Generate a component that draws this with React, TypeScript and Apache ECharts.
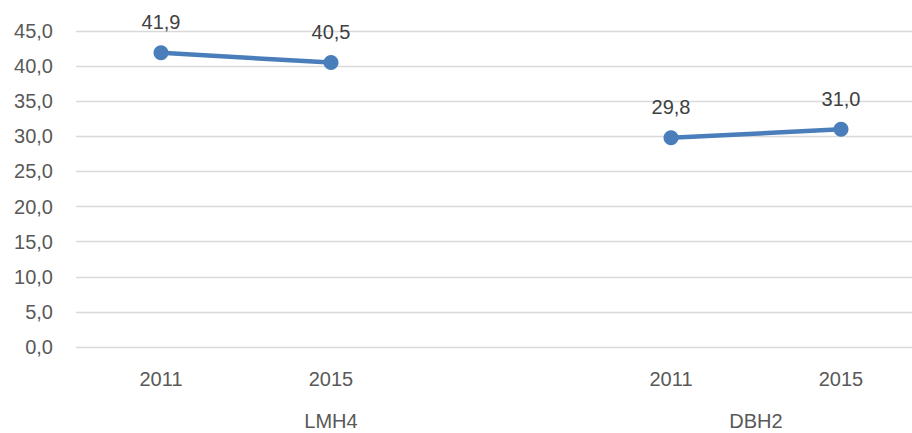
import React, { useEffect, useRef } from "react";
import * as echarts from "echarts";

const categories = ["2011", "2015", "", "2011", "2015"];
const values: (number | null)[] = [41.9, 40.5, null, 29.8, 31.0];
const groupNames = ["LMH4", "DBH2"];
const groupSizes = [3, 2];
const yMin = 0;
const yMax = 45;
const yStep = 5;

const fmt = (v: number) => v.toFixed(1).replace(".", ",");

export default function App() {
  const ref = useRef<HTMLDivElement>(null);
  useEffect(() => {
    if (!ref.current) return;
    const chart = echarts.init(ref.current, null, { renderer: "svg" });
    const groupCenters: number[] = [];
    let start = 0;
    groupSizes.forEach((n) => {
      groupCenters.push(start + n / 2);
      start += n;
    });
    const font = "Liberation Sans";
    chart.setOption({
      animation: false,
      textStyle: { fontFamily: font },
      grid: { left: 76, top: 31, bottom: 86, right: -14, outerBoundsMode: "none", containLabel: false },
      xAxis: [
        {
          type: "category",
          data: categories,
          boundaryGap: true,
          axisLine: { show: false },
          axisTick: { show: false },
          axisLabel: { color: "#595959", fontSize: 20, fontFamily: font, margin: 22, interval: 0 },
        },
        {
          type: "value",
          position: "bottom",
          offset: 42,
          min: 0,
          max: categories.length,
          splitLine: { show: false },
          axisLine: { show: false },
          axisTick: { show: false },
          axisLabel: {
            color: "#595959",
            fontSize: 20,
            fontFamily: font,
            margin: 22,
            customValues: groupCenters,
            formatter: (v: number) => {
              const i = groupCenters.findIndex((c) => Math.abs(c - v) < 1e-6);
              return i >= 0 ? groupNames[i] : "";
            },
          },
        },
      ],
      yAxis: {
        type: "value",
        min: yMin,
        max: yMax,
        interval: yStep,
        axisLine: { show: false },
        axisTick: { show: false },
        splitLine: { lineStyle: { color: "#d9d9d9", width: 1.3 } },
        axisLabel: { color: "#595959", fontSize: 20, fontFamily: font, margin: 23, formatter: fmt },
      },
      series: [
        {
          type: "line",
          data: values,
          xAxisIndex: 0,
          connectNulls: false,
          symbol: "circle",
          symbolSize: 15,
          lineStyle: { color: "#4a7ebb", width: 4.5 },
          itemStyle: { color: "#4a7ebb" },
          label: {
            show: true,
            position: "top",
            distance: 13,
            color: "#404040",
            fontSize: 20,
            fontFamily: font,
            formatter: (p: any) => fmt(p.value),
          },
        },
      ],
    });
    return () => chart.dispose();
  }, []);
  return (
    <div
      ref={ref}
      style={{ position: "fixed", left: 0, top: 0, width: 912, height: 433, background: "#fff" }}
    />
  );
}
